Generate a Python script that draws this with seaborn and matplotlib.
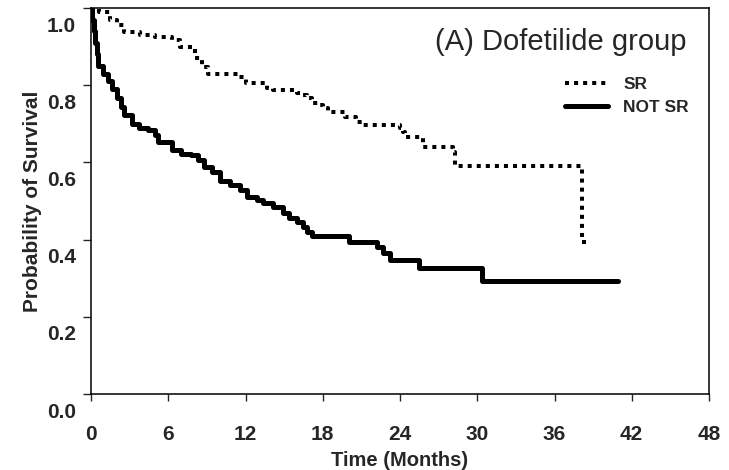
import matplotlib
matplotlib.use("Agg")
import matplotlib.pyplot as plt
import matplotlib.transforms as mtransforms
import seaborn as sns
import pandas as pd

# Kaplan-Meier steps (time in months, survival after the step)
sr_time = [0.0, 0.6, 1.5, 2.0, 2.6, 3.8, 5.0, 6.3, 6.9, 8.1, 8.6, 9.1, 11.5, 12.0,
           13.7, 14.1, 16.0, 16.5, 16.8, 17.2, 17.6, 18.0, 18.4, 19.7, 20.6, 21.1,
           24.0, 24.2, 24.4, 25.8, 28.1, 28.25, 38.1, 38.6]
sr_surv = [1.0, 0.99, 0.968, 0.955, 0.937, 0.93, 0.926, 0.916, 0.898, 0.87, 0.846, 0.83, 0.82, 0.805,
           0.794, 0.787, 0.779, 0.774, 0.766, 0.755, 0.748, 0.74, 0.73, 0.717, 0.704, 0.696,
           0.688, 0.678, 0.665, 0.64, 0.626, 0.59, 0.393, 0.393]

notsr_time = [0.0, 0.1, 0.2, 0.3, 0.45, 0.55, 0.9, 1.3, 1.6, 2.0, 2.3, 2.6, 3.2, 3.7, 4.4,
              5.0, 5.2, 6.3, 7.0, 7.8, 8.3, 8.8, 9.4, 10.0, 10.8, 11.6, 12.1, 12.9, 13.35,
              14.1, 14.9, 15.4, 16.0, 16.45, 16.8, 17.2, 20.0, 22.2, 22.7, 23.2, 25.5,
              30.4, 40.9]
notsr_surv = [1.0, 0.97, 0.94, 0.91, 0.88, 0.85, 0.83, 0.812, 0.79, 0.766, 0.743, 0.722, 0.70, 0.69, 0.683,
              0.67, 0.652, 0.631, 0.623, 0.618, 0.605, 0.587, 0.575, 0.552, 0.541, 0.528, 0.51, 0.502, 0.494,
              0.484, 0.468, 0.455, 0.445, 0.432, 0.419, 0.409, 0.395, 0.38, 0.365, 0.347, 0.327,
              0.293, 0.293]

x_ticks = [0, 6, 12, 18, 24, 30, 36, 42, 48]
y_ticks = [0.0, 0.2, 0.4, 0.6, 0.8, 1.0]
y_tick_labels = ["0.0", "0.2", "0.4", "0.6", "0.8", "1.0"]

sns.set_style("ticks")
plt.rcParams["font.family"] = ["Liberation Sans", "DejaVu Sans"]

fig = plt.figure(figsize=(7.29, 4.70), dpi=100)
ax = fig.add_axes([91 / 729, 1 - 394 / 470, (709 - 91) / 729, (394 - 8) / 470])

df_sr = pd.DataFrame({"t": sr_time, "s": sr_surv})
df_ns = pd.DataFrame({"t": notsr_time, "s": notsr_surv})

sns.lineplot(data=df_sr, x="t", y="s", ax=ax, estimator=None, sort=False,
             drawstyle="steps-post", color="black", linewidth=2.9,
             dash_capstyle="butt", label="SR")
sns.lineplot(data=df_ns, x="t", y="s", ax=ax, estimator=None, sort=False,
             drawstyle="steps-post", color="black", linewidth=3.6, label="NOT SR")
ax.get_lines()[0].set_dashes((1.0, 1.25))

ax.set_xlim(0, 48)
ax.set_ylim(0, 1.0)
ax.set_xticks(x_ticks)
ax.set_yticks(y_ticks)
ax.set_yticklabels(y_tick_labels)
for sp in ax.spines.values():
    sp.set_visible(True)
    sp.set_linewidth(1.1)
    sp.set_color("black")

ax.tick_params(axis="x", direction="out", length=5, width=1, pad=17, labelsize=15)
ax.tick_params(axis="y", direction="out", length=6, width=1, pad=5, labelsize=15)
for lab in ax.get_xticklabels() + ax.get_yticklabels():
    lab.set_fontweight("bold")
offset = mtransforms.ScaledTranslation(0, -16 / 100, fig.dpi_scale_trans)
for lab in ax.get_yticklabels():
    lab.set_transform(lab.get_transform() + offset)

ax.set_xlabel("Time (Months)", fontsize=14.5, fontweight="bold", labelpad=5)
ax.set_ylabel("Probability of Survival", fontsize=15, fontweight="bold", labelpad=3)

ax.text(0.964, 0.912, "(A) Dofetilide group", transform=ax.transAxes,
        ha="right", va="center", fontsize=21)

leg = ax.legend(loc="upper left", bbox_to_anchor=((565 - 91) / 618, (394 - 77) / 386),
                frameon=False, handlelength=2.5, handletextpad=0.85, labelspacing=0.45,
                prop={"weight": "bold", "size": 12.5}, borderpad=0, borderaxespad=0)

fig.savefig("out.png", dpi=100)
